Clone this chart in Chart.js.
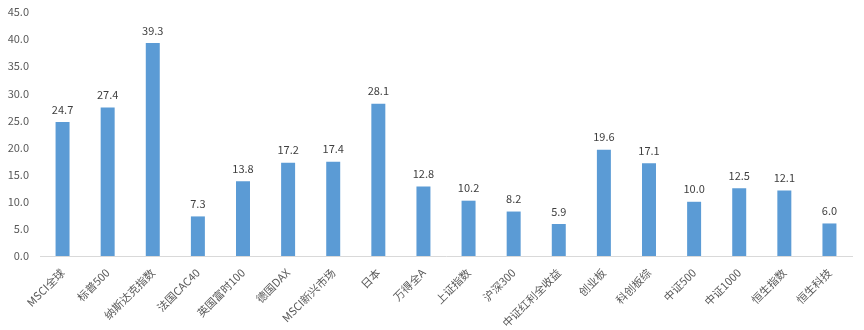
<!DOCTYPE html>
<html>
<head>
<meta charset="utf-8">
<script src="https://cdn.jsdelivr.net/npm/chart.js@4/dist/chart.umd.min.js"></script>
<style>
  html, body { margin: 0; padding: 0; background: #fff; }
  #wrap { width: 864px; height: 330px; }
</style>
</head>
<body>
<div id="wrap"><canvas id="myChart"></canvas></div>
<script>
// 指数名称
const categories = ['MSCI全球', '标普500', '纳斯达克指数', '法国CAC40', '英国富时100', '德国DAX',
  'MSCI新兴市场', '日本', '万得全A', '上证指数', '沪深300', '中证红利全收益',
  '创业板', '科创板综', '中证500', '中证1000', '恒生指数', '恒生科技'];
// 数值
const values = [24.7, 27.4, 39.3, 7.3, 13.8, 17.2, 17.4, 28.1, 12.8, 10.2, 8.2, 5.9,
  19.6, 17.1, 10.0, 12.5, 12.1, 6.0];
// y轴刻度
const yTicks = [0, 5, 10, 15, 20, 25, 30, 35, 40, 45];

const fontFamily = '"Noto Sans CJK SC", "Microsoft YaHei", sans-serif';

// 柱顶数值标签
const valueLabels = {
  id: 'valueLabels',
  afterDatasetsDraw(chart) {
    const ctx = chart.ctx;
    const meta = chart.getDatasetMeta(0);
    ctx.save();
    ctx.font = '11px ' + fontFamily;
    ctx.fillStyle = '#404040';
    ctx.textAlign = 'center';
    ctx.textBaseline = 'bottom';
    meta.data.forEach((bar, i) => {
      ctx.fillText(values[i].toFixed(1), bar.x, bar.y - 7);
    });
    ctx.restore();
  }
};

new Chart(document.getElementById('myChart'), {
  type: 'bar',
  data: {
    labels: categories,
    datasets: [{
      data: values,
      backgroundColor: '#5B9BD5',
      barPercentage: 0.31,
      categoryPercentage: 1
    }]
  },
  options: {
    responsive: true,
    maintainAspectRatio: false,
    animation: false,
    layout: { padding: { top: 12, right: 12, left: 0, bottom: 0 } },
    plugins: { legend: { display: false }, tooltip: { enabled: false } },
    scales: {
      x: {
        grid: { display: false },
        border: { display: true, color: '#D9D9D9' },
        ticks: {
          maxRotation: 45, minRotation: 45,
          color: '#595959',
          font: { size: 11, family: fontFamily },
          padding: 2,
          autoSkip: false
        },
        afterFit(scale) { scale.height = 74; }
      },
      y: {
        min: 0, max: 45,
        grid: { display: false },
        border: { display: false },
        afterBuildTicks(scale) { scale.ticks = yTicks.map(v => ({ value: v })); },
        ticks: {
          color: '#595959',
          font: { size: 11, family: fontFamily },
          callback: v => Number(v).toFixed(1)
        },
        afterFit(scale) { scale.width = 40; }
      }
    }
  },
  plugins: [valueLabels]
});
</script>
</body>
</html>
